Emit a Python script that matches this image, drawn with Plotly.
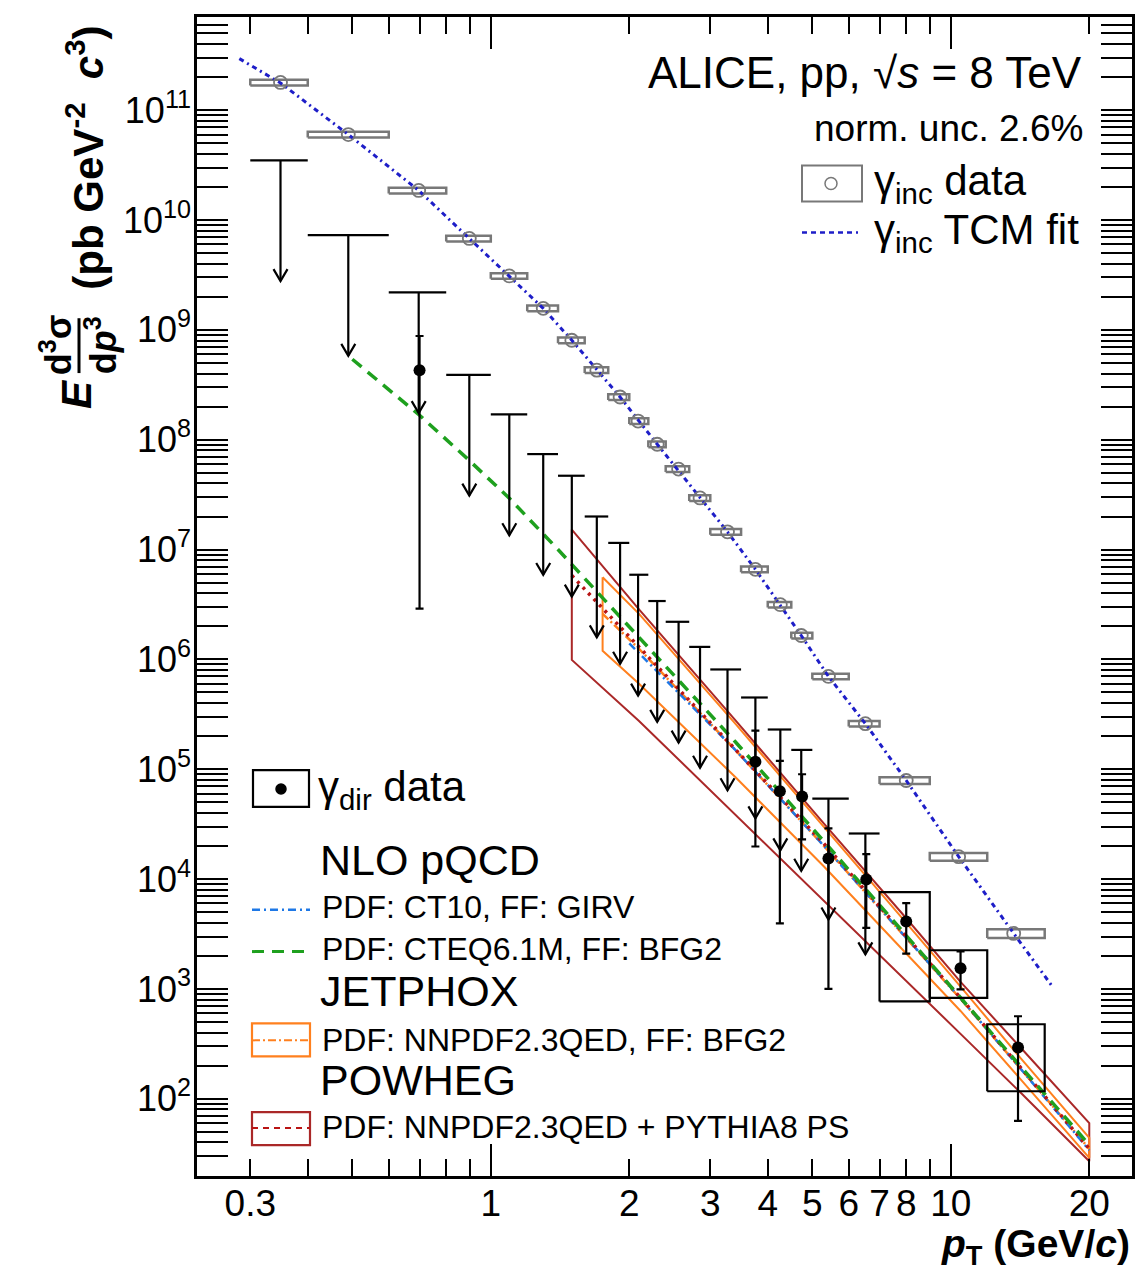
import plotly.graph_objects as go

# ---------------- data ----------------
# inclusive photon spectrum (bins, points, relative systematic)
inc_edges = [0.3, 0.4, 0.6, 0.8, 1.0, 1.2, 1.4, 1.6, 1.8, 2.0, 2.2, 2.4, 2.7, 3.0, 3.5,
             4.0, 4.5, 5.0, 6.0, 7.0, 9.0, 12.0, 16.0]
inc_x = [0.349, 0.49, 0.697, 0.898, 1.097, 1.30, 1.50, 1.70, 1.91, 2.09, 2.30, 2.56, 2.85,
         3.27, 3.76, 4.26, 4.73, 5.42, 6.52, 8.0, 10.4, 13.7]
inc_y = [1.79e11, 6.0e10, 1.86e10, 6.8e9, 3.1e9, 1.57e9, 8.05e8, 4.3e8, 2.45e8, 1.48e8,
         9.1e7, 5.4e7, 2.95e7, 1.45e7, 6.6e6, 3.15e6, 1.65e6, 7.0e5, 2.6e5, 7.9e4, 1.6e4, 3.2e3]
inc_sys = [0.06, 0.06, 0.06, 0.06, 0.06, 0.06, 0.06, 0.06, 0.06, 0.06, 0.06, 0.06, 0.06,
           0.06, 0.06, 0.06, 0.06, 0.06, 0.06, 0.07, 0.08, 0.09]

# inclusive TCM fit
fit_x = [0.284, 0.349, 0.49, 0.697, 0.898, 1.097, 1.30, 1.50, 1.70, 1.91, 2.30, 2.85, 3.27,
         3.76, 4.26, 4.73, 5.42, 6.52, 8.0, 10.4, 13.7, 16.6]
fit_y = [2.95e11, 1.77e11, 6.0e10, 1.86e10, 6.8e9, 3.1e9, 1.57e9, 8.05e8, 4.3e8, 2.45e8,
         9.1e7, 2.95e7, 1.45e7, 6.6e6, 3.15e6, 1.65e6, 7.0e5, 2.6e5, 7.9e4, 1.6e4, 3.2e3, 1.06e3]

# direct photon upper limits (one per inclusive bin, first 19 bins)
ul_val = [3.5e10, 7.3e9, 2.2e9, 3.9e8, 1.7e8, 7.4e7, 4.7e7, 2.0e7, 1.15e7, 5.9e6, 3.4e6,
          2.2e6, 1.3e6, 8.1e5, 4.5e5, 2.3e5, 1.5e5, 5.4e4, 2.6e4]

# direct photon points
dir_x = [0.70, 3.76, 4.25, 4.75, 5.42, 6.55, 8.0, 10.5, 14.0]
dir_y = [4.3e8, 1.17e5, 6.3e4, 5.65e4, 1.54e4, 9.9e3, 4.1e3, 1.54e3, 2.93e2]
dir_hi = [8.8e8, 2.25e5, 1.19e5, 9.0e4, 2.9e4, 1.69e4, 6.05e3, 2.2e3, 5.64e2]
dir_lo = [2.9e6, 1.98e4, 3.95e3, 2.3e4, 1.0e3, 3.6e3, 2.1e3, 9.9e2, 63]
# direct photon systematic boxes
box_x0 = [7.0, 9.0, 12.0]
box_x1 = [9.0, 12.0, 16.0]
box_lo = [770, 830, 117]
box_hi = [7.6e3, 2.25e3, 477]

# theory
ct10_x = [2.0, 3.4, 5.3, 8.0, 10.5, 14.0, 20.0]
ct10_y = [1.4e6, 1.5e5, 2.0e4, 2.9e3, 8.2e2, 2.0e2, 34]
cteq_x = [0.5, 0.7, 0.89, 1.1, 1.4, 2.1, 3.4, 5.3, 8.0, 10.5, 14.0, 20.0]
cteq_y = [5.4e8, 1.67e8, 6.7e7, 2.9e7, 1.0e7, 1.6e6, 1.78e5, 2.2e4, 3.05e3, 8.3e2, 2.1e2, 38]
jet_x = [1.75, 2.1, 3.4, 5.3, 8.0, 10.5, 14.0, 20.0]
jet_y = [2.6e6, 1.25e6, 1.5e5, 2.0e4, 2.9e3, 8.1e2, 2.0e2, 35]
jet_hi = [5.6e6, 2.6e6, 2.6e5, 3.0e4, 4.0e3, 1.05e3, 2.5e2, 44]
jet_lo = [1.2e6, 6.0e5, 8.5e4, 1.3e4, 2.1e3, 6.3e2, 1.6e2, 29]
pow_x = [1.5, 2.1, 3.4, 5.3, 8.0, 10.5, 14.0, 20.0]
pow_y = [5.8e6, 1.3e6, 1.55e5, 2.1e4, 3.0e3, 8.3e2, 2.05e2, 35]
pow_hi = [1.52e7, 2.85e6, 2.8e5, 3.2e4, 4.4e3, 1.16e3, 3.1e2, 60]
pow_lo = [9.9e5, 2.75e5, 3.9e4, 6.3e3, 1.18e3, 3.9e2, 1.2e2, 27]

# axis ticks
x_tickvals = [0.3, 1, 2, 3, 4, 5, 6, 7, 8, 10, 20]
x_ticktext = ["0.3", "1", "2", "3", "4", "5", "6", "7", "8", "10", "20"]
x_minor = [0.4, 0.5, 0.6, 0.7, 0.8, 0.9, 9]
x_long = [1, 10]
y_tickvals = [10 ** n for n in range(2, 12)]
y_ticktext = ["10<sup>%d</sup>" % n for n in range(2, 12)]
y_minor = [k * 10 ** n for n in range(1, 12) for k in range(2, 10)]

# ---------------- style / geometry ----------------
FONT = "Liberation Sans, Arial, Helvetica, sans-serif"
OFF = 8                      # page body margin
W, H = 1148 - OFF, 1276 - OFF
L, R, T, B = 197, 1132, 14, 1176   # plot frame in window pixels
X_RANGE = [-0.6387, 1.3939]
Y_RANGE = [1.2968, 11.8486]
ARROW_DEC = 1.1
HEAD_X = 10 ** (7 / 460.0)
HEAD_Y = 10 ** (12 / 110.0)

GRAY = "rgb(120,120,120)"
BLUE_FIT = "rgb(30,30,200)"
BLUE_CT10 = "rgb(30,120,230)"
GREEN = "rgb(30,160,30)"
ORANGE = "rgb(255,128,30)"
BROWN = "rgb(170,40,40)"
RED = "rgb(185,20,20)"


def px(x, y):
    return (x - L) / (R - L), (B - y) / (B - T)


fig = go.Figure()


def band(xs, lo, hi, color):
    bx = list(xs) + list(xs[::-1]) + [xs[0]]
    by = list(hi) + list(lo[::-1]) + [hi[0]]
    fig.add_trace(go.Scatter(x=bx, y=by, mode="lines", line=dict(color=color, width=2),
                             showlegend=False, hoverinfo="skip"))


# theory bands
band(pow_x, pow_lo, pow_hi, BROWN)
band(jet_x, jet_lo, jet_hi, ORANGE)
# theory central curves
fig.add_trace(go.Scatter(x=jet_x, y=jet_y, mode="lines",
                         line=dict(color=ORANGE, width=2.5, dash="8px,3px,2px,3px"),
                         showlegend=False, hoverinfo="skip"))
fig.add_trace(go.Scatter(x=ct10_x, y=ct10_y, mode="lines",
                         line=dict(color=BLUE_CT10, width=2.5, dash="8px,4px,2px,4px"),
                         showlegend=False, hoverinfo="skip"))
fig.add_trace(go.Scatter(x=pow_x, y=pow_y, mode="lines",
                         line=dict(color=RED, width=3.5, dash="3px,5px"),
                         showlegend=False, hoverinfo="skip"))
fig.add_trace(go.Scatter(x=cteq_x, y=cteq_y, mode="lines",
                         line=dict(color=GREEN, width=3.5, dash="12px,8px"),
                         showlegend=False, hoverinfo="skip"))

# inclusive systematic boxes
bx, by = [], []
for i, (yv, s) in enumerate(zip(inc_y, inc_sys)):
    x0, x1 = inc_edges[i], inc_edges[i + 1]
    y0, y1 = yv * (1 - s), yv * (1 + s)
    bx += [x0, x1, x1, x0, x0, None]
    by += [y0, y0, y1, y1, y0, None]
fig.add_trace(go.Scatter(x=bx, y=by, mode="lines", line=dict(color=GRAY, width=2.5),
                         showlegend=False, hoverinfo="skip"))
# TCM fit
fig.add_trace(go.Scatter(x=fit_x, y=fit_y, mode="lines",
                         line=dict(color=BLUE_FIT, width=3, dash="5px,4px,2px,4px"),
                         showlegend=False, hoverinfo="skip"))
# inclusive points
fig.add_trace(go.Scatter(x=inc_x, y=inc_y, mode="markers",
                         marker=dict(symbol="circle-open", size=13, color=GRAY,
                                     line=dict(width=1.8, color=GRAY)),
                         showlegend=False, hoverinfo="skip"))

# upper limits
ux, uy = [], []
for i, v in enumerate(ul_val):
    x0, x1, xc = inc_edges[i], inc_edges[i + 1], inc_x[i]
    tip = v / 10 ** ARROW_DEC
    ux += [x0, x1, None, xc, xc, None, xc / HEAD_X, xc, xc * HEAD_X, None]
    uy += [v, v, None, v, tip, None, tip * HEAD_Y, tip, tip * HEAD_Y, None]
fig.add_trace(go.Scatter(x=ux, y=uy, mode="lines", line=dict(color="black", width=2.2),
                         showlegend=False, hoverinfo="skip"))

# direct photon sys boxes
sx, sy = [], []
for x0, x1, y0, y1 in zip(box_x0, box_x1, box_lo, box_hi):
    sx += [x0, x1, x1, x0, x0, None]
    sy += [y0, y0, y1, y1, y0, None]
fig.add_trace(go.Scatter(x=sx, y=sy, mode="lines", line=dict(color="black", width=2.2),
                         showlegend=False, hoverinfo="skip"))

# direct photon points
fig.add_trace(go.Scatter(
    x=dir_x, y=dir_y, mode="markers",
    marker=dict(symbol="circle", size=12, color="black"),
    error_y=dict(type="data", symmetric=False,
                 array=[h - y for h, y in zip(dir_hi, dir_y)],
                 arrayminus=[y - l for l, y in zip(dir_lo, dir_y)],
                 color="black", thickness=2.2, width=4),
    showlegend=False, hoverinfo="skip"))

# overlay axis for long ticks at 1 and 10
fig.add_trace(go.Scatter(x=[1], y=[1e5], xaxis="x2", mode="markers",
                         marker=dict(opacity=0), showlegend=False, hoverinfo="skip"))

fig.update_layout(
    width=W, height=H, autosize=False,
    margin=dict(l=L - OFF, r=W - (R - OFF), t=T - OFF, b=H - (B - OFF), pad=0),
    paper_bgcolor="white", plot_bgcolor="white",
    showlegend=False,
    xaxis=dict(type="log", range=X_RANGE, tickmode="array", tickvals=x_tickvals,
               ticktext=x_ticktext, ticks="inside", ticklen=17, tickwidth=2,
               tickcolor="black", showline=True, linecolor="black", linewidth=2.5,
               mirror="allticks", showgrid=False, zeroline=False,
               tickfont=dict(family=FONT, size=37, color="black"),
               ticklabelstandoff=-7,
               minor=dict(tickmode="array", tickvals=x_minor, ticks="inside", ticklen=17,
                          tickwidth=2, tickcolor="black", showgrid=False)),
    xaxis2=dict(type="log", range=X_RANGE, overlaying="x", anchor="y", side="bottom",
                tickmode="array", tickvals=x_long, ticks="inside", ticklen=32,
                tickwidth=2, tickcolor="black", showticklabels=False, showline=False,
                mirror="allticks", showgrid=False, zeroline=False),
    yaxis=dict(type="log", range=Y_RANGE, tickmode="array", tickvals=y_tickvals,
               ticktext=y_ticktext, ticks="inside", ticklen=31, tickwidth=2,
               tickcolor="black", showline=True, linecolor="black", linewidth=2.5,
               mirror="allticks", showgrid=False, zeroline=False,
               tickfont=dict(family=FONT, size=36, color="black"),
               ticklabelstandoff=-4,
               minor=dict(tickmode="array", tickvals=y_minor, ticks="inside", ticklen=15,
                          tickwidth=2, tickcolor="black", showgrid=False)),
)

annotations = []
shapes = []


def text(x, y, s, size, anchor="left", angle=0):
    xp, yp = px(x, y)
    annotations.append(dict(x=xp, y=yp, xref="paper", yref="paper", text=s,
                            showarrow=False, xanchor=anchor, yanchor="middle",
                            textangle=angle,
                            font=dict(family=FONT, size=size, color="black")))


def rect(x0, y0, x1, y1, color, width=2):
    a, b = px(x0, y0)
    c, d = px(x1, y1)
    shapes.append(dict(type="rect", xref="paper", yref="paper", x0=a, y0=b, x1=c, y1=d,
                       line=dict(color=color, width=width)))


def hline(x0, x1, y, color, width, dash):
    a, b = px(x0, y)
    c, _ = px(x1, y)
    shapes.append(dict(type="line", xref="paper", yref="paper", x0=a, y0=b, x1=c, y1=b,
                       line=dict(color=color, width=width, dash=dash)))


def dot(x, y, r, color, filled):
    a, b = px(x, y)
    shapes.append(dict(type="circle", xref="paper", yref="paper", xsizemode="pixel",
                       ysizemode="pixel", xanchor=a, yanchor=b, x0=-r, x1=r, y0=-r, y1=r,
                       line=dict(color=color, width=1.5),
                       fillcolor=color if filled else "rgba(0,0,0,0)"))


# top-right texts / legend
text(1084, 70, "ALICE, pp, √<i>s</i> = 8 TeV", 44, anchor="right")
text(1085, 126, "norm. unc. 2.6%", 37, anchor="right")
rect(802, 163, 862, 199, GRAY, 2)
dot(831, 181, 6, GRAY, False)
text(872, 181, "γ<sub>inc</sub> data", 42)
hline(802, 858, 230, BLUE_FIT, 2.5, "5px,4px")
text(872, 230, "γ<sub>inc</sub> TCM fit", 42)

# bottom-left legend
rect(253, 769, 309, 806, "black", 2.2)
dot(281, 788, 5, "black", True)
text(316, 788, "γ<sub>dir</sub> data", 42)
text(318, 859, "NLO pQCD", 43)
hline(252, 310, 909, BLUE_CT10, 2.5, "8px,4px,2px,4px")
text(320, 906, "PDF: CT10, FF: GIRV", 32)
hline(252, 310, 951, GREEN, 3, "12px,8px")
text(320, 948, "PDF: CTEQ6.1M, FF: BFG2", 32)
text(318, 991, "JETPHOX", 43)
rect(252, 1023, 310, 1056, ORANGE, 2.2)
hline(252, 310, 1040, ORANGE, 2, "8px,3px,2px,3px")
text(320, 1040, "PDF: NNPDF2.3QED, FF: BFG2", 32)
text(318, 1080, "POWHEG", 43)
rect(252, 1112, 310, 1145, BROWN, 2.2)
hline(252, 310, 1128, RED, 2, "6px,5px")
text(320, 1127, "PDF: NNPDF2.3QED + PYTHIA8 PS", 32)

# axis titles
xa, ya = px(1132, 1247)
annotations.append(dict(x=xa, y=ya, xref="paper", yref="paper",
                        text="<b><i>p</i><sub>T</sub> (GeV/<i>c</i>)</b>", showarrow=False,
                        xanchor="right", yanchor="middle",
                        font=dict(family=FONT, size=39, color="black")))
text(76, 392, "<b><i>E</i></b>", 42, anchor="center", angle=-90)
text(56, 343, "<b>d<sup>3</sup>σ</b>", 36, anchor="center", angle=-90)
text(101, 343, "<b>d<i>p</i><sup>3</sup></b>", 36, anchor="center", angle=-90)
a, b = px(79, 316)
c, d = px(79, 371)
shapes.append(dict(type="line", xref="paper", yref="paper", x0=a, y0=b, x1=c, y1=d,
                   line=dict(color="black", width=3)))
text(85, 155, "<b>(pb GeV<sup>-2</sup>  <i>c</i><sup>3</sup>)</b>", 42, anchor="center",
     angle=-90)

fig.update_layout(annotations=annotations, shapes=shapes)
fig.write_html("out.html")
